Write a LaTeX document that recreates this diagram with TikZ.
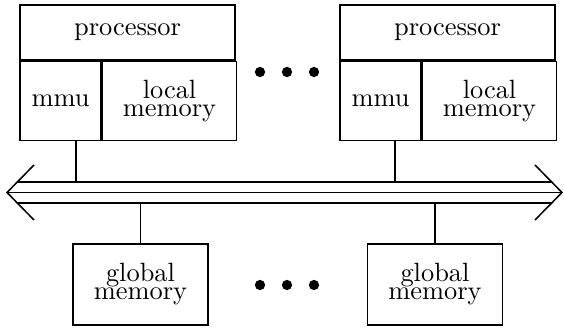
\documentclass[tikz,border=0pt]{standalone}
\usepackage{xcolor}
\usepackage{tikz}
\usetikzlibrary{positioning}

\begin{document}
\begin{tikzpicture}[x=0.39pt, y=-0.39pt, line width=0.6pt,
    box/.style={draw, inner sep=0pt, align=center, font={\fontsize{10.3}{7}\selectfont}}]
        \useasboundingbox (0,0) rectangle (564,328);
        % 处理器
        \node[box, minimum width=83.85pt, minimum height=21.45pt] (proc1) at (127.5,32.5) {processor};
        \node[box, minimum width=31.6pt, minimum height=30.8pt, anchor=north west] (mmu1) at (proc1.south west) {mmu};
        \node[box, minimum width=52.25pt, minimum height=30.8pt, anchor=north west] (loc1) at (mmu1.north east) {local\\memory};
        \node[box, minimum width=83.85pt, minimum height=21.45pt] (proc2) at (447.5,32.5) {processor};
        \node[box, minimum width=31.6pt, minimum height=30.8pt, anchor=north west] (mmu2) at (proc2.south west) {mmu};
        \node[box, minimum width=52.25pt, minimum height=30.8pt, anchor=north west] (loc2) at (mmu2.north east) {local\\memory};
        % 全局存储
        \node[box, minimum width=52.65pt, minimum height=31.6pt] (gm1) at (140.5,284.5) {global\\memory};
        \node[box, minimum width=52.65pt, minimum height=31.6pt] (gm2) at (435,284.5) {global\\memory};
        % 省略号
        \foreach \x in {260,287,314} {
            \fill (\x,72) circle (2pt);
            \fill (\x,285) circle (2pt);
        }
        % 总线
        \coordinate (busL) at (7,192.5);
        \coordinate (busR) at (562,192.5);
        \coordinate (busT) at (0,182);
        \coordinate (busB) at (0,203);
        \draw (busL) -- (busR);
        \draw (17.3,182) -- (551.7,182);
        \draw (17.3,203) -- (551.7,203);
        \draw (34,165) -- (busL) -- (34,220);
        \draw (535,165) -- (busR) -- (535,220);
        % 连线
        \draw (mmu1.south east) ++(-26,0) coordinate (tap1) -- (tap1 |- busT);
        \draw (mmu2.south east) ++(-27,0) coordinate (tap2) -- (tap2 |- busT);
        \draw (gm1.north) -- (gm1.north |- busB);
        \draw (gm2.north) -- (gm2.north |- busB);
\end{tikzpicture}
\end{document}
